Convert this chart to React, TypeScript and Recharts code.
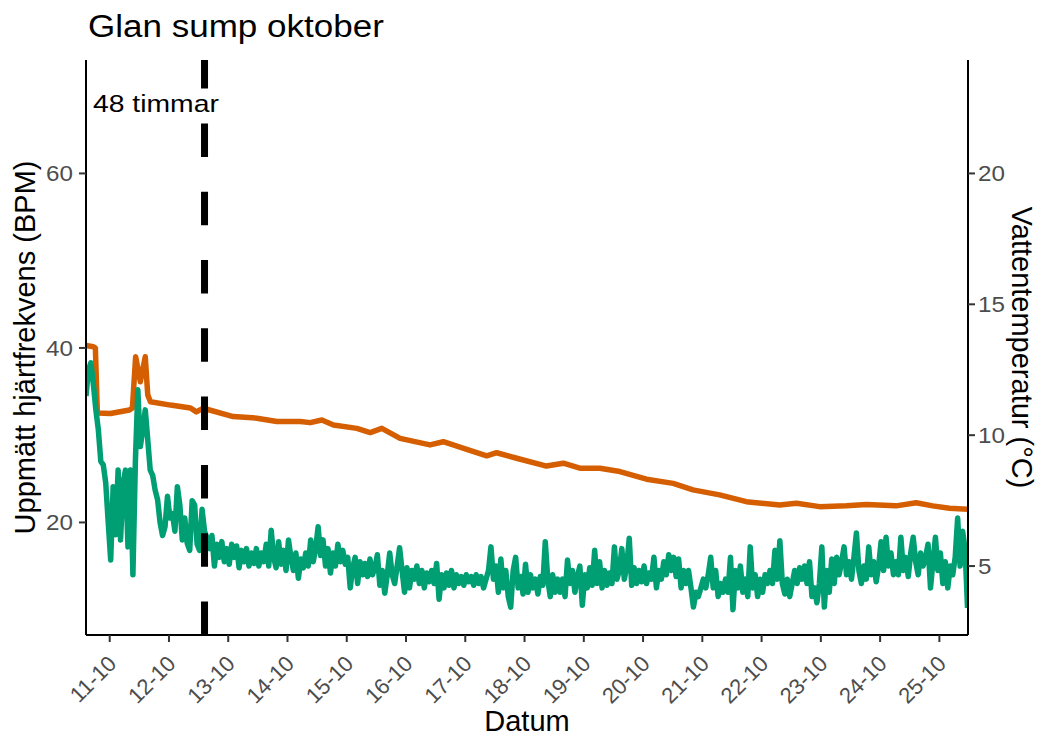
import React from 'react';
import { LineChart, Line, XAxis, YAxis, ReferenceLine, ReferenceDot } from 'recharts';

// Logger start: 10 Oct 14:24, one heart-rate reading per hour
const START_DAY = 10.6;
const END_DAY = 25.483;
const HOURS_AFTER_START = 48;

// Heart rate (BPM), 24 hourly readings per 24 h block after start
const bpmDay1 = [34.5, 37.5, 38.3, 35.8, 32.9, 30.6, 27.0, 26.6, 24.5, 20.0, 15.7, 24.1, 18.6, 26.0, 18.0, 24.5, 26.0, 17.2, 26.0, 14.0, 27.0, 35.2, 28.7, 30.6];
const bpmDay2 = [32.9, 29.5, 26.0, 25.4, 23.7, 22.6, 20.0, 18.5, 19.5, 23.0, 20.5, 21.0, 19.0, 24.1, 22.0, 18.0, 20.5, 17.6, 16.8, 22.5, 22.0, 17.5, 16.8, 21.5];
const bpmDay3 = [19.0, 18.2, 17.0, 18.5, 15.0, 17.5, 16.0, 17.8, 15.5, 17.0, 15.2, 17.5, 16.0, 17.3, 14.8, 16.8, 15.5, 17.0, 15.0, 16.5, 15.3, 17.0, 15.0, 16.5];
const bpmDay4 = [15.5, 17.5, 15.0, 19.1, 16.0, 14.8, 17.8, 15.2, 16.8, 14.5, 18.0, 16.0, 14.5, 16.5, 13.6, 15.8, 14.8, 16.5, 15.0, 18.0, 15.5, 17.0, 19.5, 16.2];
const bpmDay5 = [18.0, 15.0, 17.0, 14.2, 16.5, 15.0, 17.5, 15.5, 16.8, 15.2, 16.0, 12.5, 14.8, 16.0, 13.0, 15.5, 14.0, 15.3, 13.8, 15.8, 14.0, 14.8, 16.3, 12.8];
const bpmDay6 = [14.5, 11.9, 14.0, 16.5, 14.0, 13.0, 15.0, 17.1, 14.5, 12.0, 14.8, 12.5, 14.5, 13.5, 15.0, 13.0, 14.5, 12.5, 14.2, 13.2, 14.5, 13.0, 15.3, 11.2];
const bpmDay7 = [14.0, 12.5, 14.2, 12.8, 14.5, 12.5, 14.0, 13.0, 13.8, 12.8, 14.0, 13.2, 13.8, 12.8, 14.0, 13.0, 13.8, 12.5, 13.5, 14.5, 17.2, 13.5, 15.0, 12.0];
const bpmDay8 = [15.8, 12.5, 14.5, 11.5, 10.3, 14.5, 16.0, 12.5, 13.8, 11.8, 15.2, 12.0, 14.0, 12.5, 13.5, 11.8, 13.8, 12.8, 17.8, 13.5, 11.5, 14.0, 12.0, 13.5];
const bpmDay9 = [12.0, 13.5, 11.5, 15.7, 13.0, 14.5, 12.0, 13.8, 15.0, 10.5, 14.0, 12.5, 14.8, 12.8, 16.8, 13.0, 15.5, 12.5, 14.5, 12.8, 14.2, 13.0, 17.2, 13.5];
const bpmDay10 = [14.5, 17.0, 13.5, 15.0, 18.2, 12.8, 14.8, 13.0, 14.5, 13.2, 15.0, 13.0, 14.2, 13.5, 16.0, 12.5, 14.5, 13.5, 15.5, 14.0, 16.3, 14.5, 16.0, 13.8];
const bpmDay11 = [15.8, 12.5, 14.5, 13.0, 14.5, 12.5, 10.3, 12.0, 11.5, 12.5, 13.5, 12.5, 14.0, 16.0, 12.5, 14.5, 11.5, 13.0, 12.0, 13.5, 12.0, 16.0, 10.0, 14.5];
const bpmDay12 = [12.5, 15.0, 12.0, 13.5, 11.5, 17.2, 12.5, 14.0, 11.5, 13.5, 12.0, 14.0, 13.0, 14.5, 13.0, 16.8, 13.5, 17.9, 13.0, 11.8, 13.5, 11.5, 13.0, 14.5];
const bpmDay13 = [13.0, 14.8, 13.5, 15.0, 13.0, 15.5, 11.5, 12.5, 10.8, 13.0, 17.2, 10.3, 14.5, 12.0, 15.8, 13.0, 16.0, 14.0, 15.5, 17.2, 14.0, 15.5, 13.5, 16.0];
const bpmDay14 = [18.8, 14.5, 13.0, 15.0, 13.5, 17.2, 14.0, 15.5, 13.2, 15.0, 17.8, 14.5, 18.3, 15.0, 16.5, 14.0, 15.5, 14.0, 18.3, 14.5, 16.0, 13.8, 16.5, 18.3];
const bpmDay15 = [15.5, 14.0, 16.5, 15.0, 16.0, 17.5, 12.5, 15.5, 18.3, 14.5, 16.5, 13.0, 15.5, 12.5, 15.0, 14.0, 16.0, 20.5, 15.0, 19.0, 17.0, 10.2];

// Water temperature (°C), logged at these hours after start
const tempHours = [0, 3.0, 3.8, 4.6, 9.9, 17.6, 18.8, 20.1, 22.0, 24.0, 25.0, 26.1, 34.2, 42.3, 44.7, 47.5, 59.6, 69.2, 77.3, 86.8, 90.8, 95.5, 100.2, 109.7, 115.1, 119.8, 127.2, 139.3, 144.7, 154.2, 162.3, 166.3, 174.4, 186.5, 193.3, 200.0, 208.1, 216.2, 227.0, 237.8, 245.8, 256.6, 267.4, 280.9, 287.7, 297.1, 307.9, 316.0, 328.1, 336.2, 342.9, 349.7, 357.0];
const tempValues = [13.43, 13.38, 13.33, 10.85, 10.83, 10.96, 11.04, 13.0, 12.04, 13.0, 11.54, 11.28, 11.15, 11.04, 10.89, 11.03, 10.71, 10.65, 10.52, 10.52, 10.48, 10.58, 10.39, 10.26, 10.10, 10.26, 9.88, 9.63, 9.75, 9.46, 9.21, 9.33, 9.12, 8.82, 8.93, 8.74, 8.74, 8.61, 8.32, 8.16, 7.91, 7.72, 7.46, 7.33, 7.40, 7.27, 7.30, 7.35, 7.30, 7.42, 7.30, 7.21, 7.17];

// Axis ticks
const dayTicks = [11, 12, 13, 14, 15, 16, 17, 18, 19, 20, 21, 22, 23, 24, 25];
const dayTickLabels = ['11-10', '12-10', '13-10', '14-10', '15-10', '16-10', '17-10', '18-10', '19-10', '20-10', '21-10', '22-10', '23-10', '24-10', '25-10'];
const bpmTicks = [20, 40, 60];
const tempTicks = [5, 10, 15, 20];

// BPM axis is three times the temperature axis
const BPM_PER_DEGREE = 3;
const BPM_DOMAIN: [number, number] = [7.1, 73.0];
const TEMP_DOMAIN: [number, number] = [BPM_DOMAIN[0] / BPM_PER_DEGREE, BPM_DOMAIN[1] / BPM_PER_DEGREE];

const bpmDays = [bpmDay1, bpmDay2, bpmDay3, bpmDay4, bpmDay5, bpmDay6, bpmDay7, bpmDay8, bpmDay9, bpmDay10, bpmDay11, bpmDay12, bpmDay13, bpmDay14, bpmDay15];
const heartData = bpmDays.flat().map((bpm, i) => ({ t: START_DAY + i / 24, bpm }));
const tempData = tempHours.map((h, i) => ({ t: START_DAY + h / 24, temp: tempValues[i] }));

const FONT = "'Liberation Sans', Arial, Helvetica, sans-serif";
const GREEN = '#009E73';
const ORANGE = '#D55E00';
const TICK_COLOR = '#4D4D4D';
const TICK_FONT = 22;
const TITLE_FONT = 29;

function DayTick(props: any) {
  const { x, y, payload } = props;
  const label = dayTickLabels[dayTicks.indexOf(payload.value)];
  return (
    <text
      transform={`translate(${x + 8},${y + 23}) rotate(-45)`}
      textAnchor="end"
      fontSize={TICK_FONT}
      fill={TICK_COLOR}
      fontFamily={FONT}
    >
      {label}
    </text>
  );
}

function LeftTick(props: any) {
  const { x, y, payload } = props;
  return (
    <text
      transform={`translate(${x - 6},${y}) scale(1.1,1)`}
      textAnchor="end"
      dy="0.36em"
      fontSize={TICK_FONT}
      fill={TICK_COLOR}
      fontFamily={FONT}
    >
      {payload.value}
    </text>
  );
}

function RightTick(props: any) {
  const { x, y, payload } = props;
  return (
    <text
      transform={`translate(${x + 3},${y}) scale(1.1,1)`}
      textAnchor="start"
      dy="0.36em"
      fontSize={TICK_FONT}
      fill={TICK_COLOR}
      fontFamily={FONT}
    >
      {payload.value}
    </text>
  );
}

function NoteText(props: any) {
  const { cx, cy } = props;
  return (
    <text
      transform={`translate(${cx},${cy}) scale(1.18,1)`}
      textAnchor="middle"
      dy="0.36em"
      fontSize={24}
      fill="#000"
      fontFamily={FONT}
    >
      48 timmar
    </text>
  );
}

export default function App() {
  const axisLine = { stroke: '#000', strokeWidth: 2 };
  const tickLine = { stroke: '#333', strokeWidth: 2 };
  return (
    <div style={{ position: 'absolute', left: 0, top: 0, width: 1040, height: 738, background: '#fff' }}>
      <LineChart
        width={1040}
        height={738}
        margin={{ top: 60, right: 12, bottom: 43, left: 26 }}
      >
        <XAxis
          dataKey="t"
          type="number"
          scale="linear"
          domain={[START_DAY, END_DAY]}
          ticks={dayTicks}
          allowDataOverflow
          height={60}
          tickSize={7}
          tickMargin={0}
          axisLine={axisLine}
          tickLine={tickLine}
          tick={<DayTick />}
          interval={0}
        />
        <YAxis
          yAxisId="bpm"
          type="number"
          domain={BPM_DOMAIN}
          ticks={bpmTicks}
          allowDataOverflow
          width={60}
          tickSize={7}
          tickMargin={0}
          axisLine={axisLine}
          tickLine={tickLine}
          tick={<LeftTick />}
          interval={0}
        />
        <YAxis
          yAxisId="temp"
          orientation="right"
          type="number"
          domain={TEMP_DOMAIN}
          ticks={tempTicks}
          allowDataOverflow
          width={60}
          tickSize={7}
          tickMargin={0}
          axisLine={axisLine}
          tickLine={tickLine}
          tick={<RightTick />}
          interval={0}
        />
        <Line
          data={tempData}
          dataKey="temp"
          yAxisId="temp"
          type="linear"
          stroke={ORANGE}
          strokeWidth={5.5}
          strokeLinejoin="round"
          dot={false}
          activeDot={false}
          isAnimationActive={false}
        />
        <Line
          data={heartData}
          dataKey="bpm"
          yAxisId="bpm"
          type="linear"
          stroke={GREEN}
          strokeWidth={5.5}
          strokeLinejoin="round"
          dot={false}
          activeDot={false}
          isAnimationActive={false}
        />
        <ReferenceLine
          x={START_DAY + HOURS_AFTER_START / 24}
          yAxisId="bpm"
          stroke="#000"
          strokeWidth={7}
          strokeDasharray="33.5 34.8"
        />
        <ReferenceDot
          x={11.78}
          y={68}
          yAxisId="bpm"
          r={0}
          shape={<NoteText />}
        />
      </LineChart>
      <svg
        width={1040}
        height={738}
        style={{ position: 'absolute', left: 0, top: 0, pointerEvents: 'none' }}
        fontFamily={FONT}
      >
        <text transform="translate(88,37) scale(1.13,1)" fontSize={31} fill="#000">
          Glan sump oktober
        </text>
        <text transform="translate(35,347.5) rotate(-90)" textAnchor="middle" fontSize={TITLE_FONT} fill="#000">
          Uppmätt hjärtfrekvens (BPM)
        </text>
        <text transform="translate(1012,347.5) rotate(90)" textAnchor="middle" fontSize={TITLE_FONT} fill="#000">
          Vattentemperatur (°C)
        </text>
        <text x={527} y={731} textAnchor="middle" fontSize={TITLE_FONT} fill="#000">
          Datum
        </text>
      </svg>
    </div>
  );
}
